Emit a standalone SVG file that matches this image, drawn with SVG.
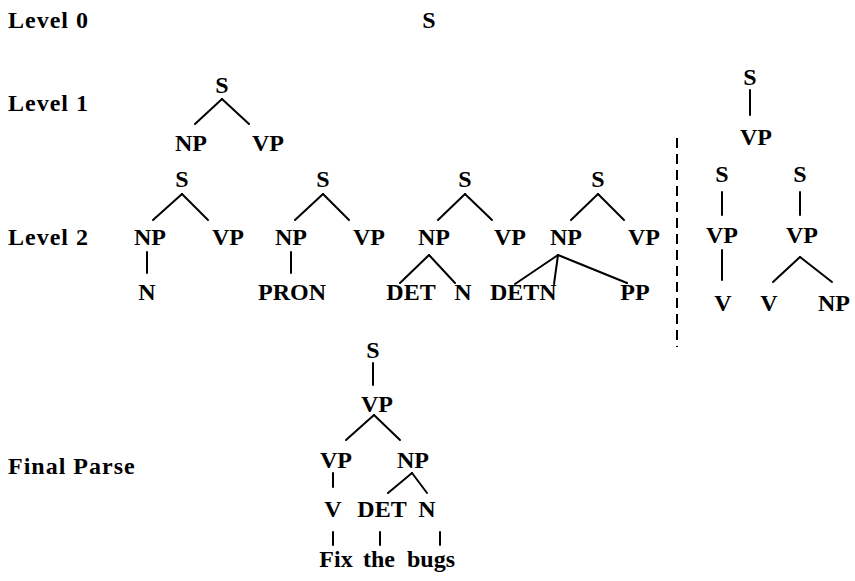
<svg xmlns="http://www.w3.org/2000/svg" width="855" height="581" viewBox="0 0 855 581">
<style>
text{font-family:"Liberation Serif","Times New Roman",serif;font-weight:bold;font-size:24px;fill:#000}
.lab{letter-spacing:1px}
.n{text-anchor:middle}
.e line{stroke:#000;stroke-width:2;stroke-linecap:round}
.e line.dash{stroke-dasharray:10 6;stroke-linecap:butt}
</style>
<rect width="855" height="581" fill="#fff"/>
<g id="labels">
<text class="lab" x="8" y="28">Level 0</text>
<text class="lab" x="8" y="111">Level 1</text>
<text class="lab" x="8" y="245">Level 2</text>
<text class="lab" x="8" y="474">Final Parse</text>
</g>
<g id="level0"><text class="n" x="429" y="28">S</text></g>
<g id="level1">
<text class="n" x="222" y="93">S</text>
<text class="n" x="191" y="151">NP</text>
<text class="n" x="268" y="151">VP</text>
</g>
<g id="tree2a">
<text class="n" x="182" y="187">S</text>
<text class="n" x="150" y="245">NP</text>
<text class="n" x="228" y="245">VP</text>
<text class="n" x="147" y="300">N</text>
</g>
<g id="tree2b">
<text class="n" x="323" y="187">S</text>
<text class="n" x="291" y="245">NP</text>
<text class="n" x="369" y="245">VP</text>
<text class="n" x="292" y="300">PRON</text>
</g>
<g id="tree2c">
<text class="n" x="465" y="187">S</text>
<text class="n" x="434" y="245">NP</text>
<text class="n" x="510" y="245">VP</text>
<text class="n" x="411" y="300">DET</text>
<text class="n" x="463" y="300">N</text>
</g>
<g id="tree2d">
<text class="n" x="598" y="187">S</text>
<text class="n" x="566" y="245">NP</text>
<text class="n" x="644" y="245">VP</text>
<text x="490" y="300">DETN</text>
<text class="n" x="635" y="300">PP</text>
</g>
<g id="tree2e">
<text class="n" x="750" y="85">S</text>
<text class="n" x="756" y="145">VP</text>
</g>
<g id="tree2f">
<text class="n" x="722" y="182">S</text>
<text class="n" x="722" y="243">VP</text>
<text class="n" x="723" y="311">V</text>
</g>
<g id="tree2g">
<text class="n" x="800" y="182">S</text>
<text class="n" x="802" y="243">VP</text>
<text class="n" x="769" y="311">V</text>
<text class="n" x="834" y="311">NP</text>
</g>
<g id="final">
<text class="n" x="373" y="358">S</text>
<text class="n" x="377" y="412">VP</text>
<text class="n" x="336" y="468">VP</text>
<text class="n" x="413" y="468">NP</text>
<text class="n" x="333" y="517">V</text>
<text class="n" x="382" y="517">DET</text>
<text class="n" x="427" y="517">N</text>
<text class="n" x="336" y="567">Fix</text>
<text class="n" x="379" y="567">the</text>
<text class="n" x="431" y="567">bugs</text>
</g>
<g id="connectors" class="e">
<line x1="222" y1="99" x2="195" y2="124"/>
<line x1="222" y1="99" x2="249" y2="124"/>
<line x1="182" y1="194" x2="153" y2="220"/>
<line x1="182" y1="194" x2="208" y2="220"/>
<line x1="147" y1="252" x2="147" y2="273"/>
<line x1="323" y1="194" x2="295" y2="220"/>
<line x1="323" y1="194" x2="349" y2="220"/>
<line x1="291" y1="252" x2="291" y2="273"/>
<line x1="465" y1="194" x2="438" y2="220"/>
<line x1="465" y1="194" x2="492" y2="220"/>
<line x1="429" y1="255" x2="400" y2="283"/>
<line x1="429" y1="255" x2="455" y2="283"/>
<line x1="558" y1="255" x2="515" y2="284"/>
<line x1="598" y1="194" x2="571" y2="220"/>
<line x1="598" y1="194" x2="624" y2="220"/>
<line x1="558" y1="255" x2="554" y2="284"/>
<line x1="558" y1="255" x2="627" y2="283"/>
<line x1="750" y1="90" x2="750" y2="115"/>
<line x1="722" y1="192" x2="722" y2="215"/>
<line x1="722" y1="250" x2="722" y2="280"/>
<line x1="800" y1="192" x2="800" y2="215"/>
<line x1="800" y1="257" x2="773" y2="282"/>
<line x1="800" y1="257" x2="832" y2="282"/>
<line x1="373" y1="363" x2="373" y2="385"/>
<line x1="374" y1="415" x2="346" y2="440"/>
<line x1="374" y1="415" x2="400" y2="440"/>
<line x1="333" y1="473" x2="333" y2="487"/>
<line x1="412" y1="473" x2="388" y2="493"/>
<line x1="412" y1="473" x2="427" y2="493"/>
<line x1="333" y1="532" x2="333" y2="545"/>
<line x1="380" y1="532" x2="380" y2="545"/>
<line x1="440" y1="532" x2="440" y2="545"/>
<line class="dash" x1="677" y1="138" x2="677" y2="347"/>
</g>
</svg>
